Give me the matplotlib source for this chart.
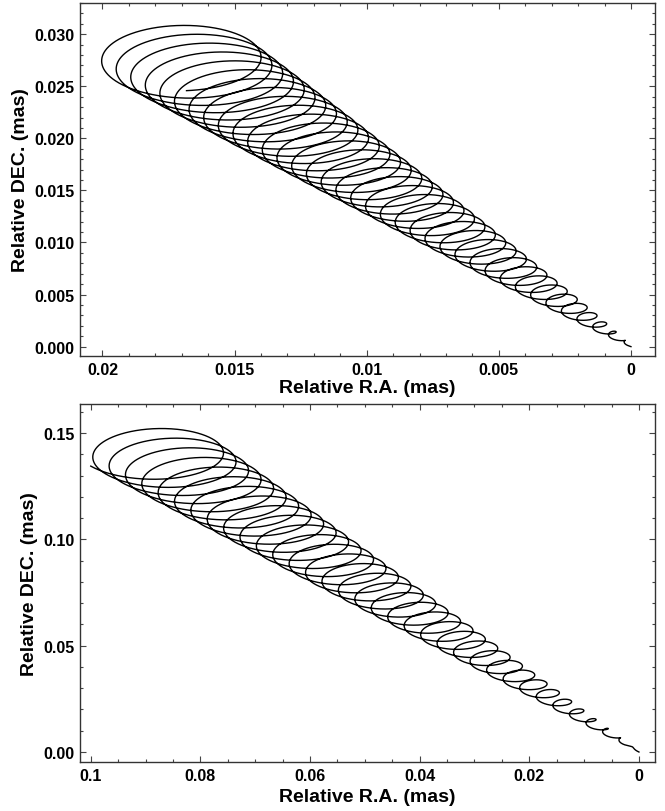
import numpy as np
import matplotlib
matplotlib.use("Agg")
import matplotlib.pyplot as plt
from matplotlib.ticker import FixedLocator, MultipleLocator

# ---- data (trajectory parameters per panel) ----
# loop-centre drift at the end of the track (R.A., DEC) in mas
top_drift_end = [0.01726, 0.0279]
top_loop_semi = [0.00317, 0.00335]   # semi-axes of the last loop (R.A., DEC)
top_turns = 36
top_end_phase_deg = -98.0
top_growth_power = 0.8

bot_drift_end = [0.0895, 0.142]
bot_loop_semi = [0.0128, 0.0131]
bot_turns = 34
bot_end_phase_deg = -35.0
bot_growth_power = 0.92

top_xticks = [0.02, 0.015, 0.01, 0.005, 0.0]
top_xticklabels = ["0.02", "0.015", "0.01", "0.005", "0"]
top_yticks = [0.000, 0.005, 0.010, 0.015, 0.020, 0.025, 0.030]
top_yticklabels = ["0.000", "0.005", "0.010", "0.015", "0.020", "0.025", "0.030"]
top_xlim = [0.02085, -0.00091]
top_ylim = [-0.0009, 0.0330]

bot_xticks = [0.1, 0.08, 0.06, 0.04, 0.02, 0.0]
bot_xticklabels = ["0.1", "0.08", "0.06", "0.04", "0.02", "0"]
bot_yticks = [0.00, 0.05, 0.10, 0.15]
bot_yticklabels = ["0.00", "0.05", "0.10", "0.15"]
bot_xlim = [0.10195, -0.00293]
bot_ylim = [-0.0047, 0.1637]

xlabel = "Relative R.A. (mas)"
ylabel = "Relative DEC. (mas)"

FONT = ["Liberation Sans", "DejaVu Sans"]
plt.rcParams["font.family"] = FONT
plt.rcParams["font.weight"] = "bold"


def track(drift, semi, turns, end_deg, power, n=30000):
    t = np.linspace(0.0, 1.0, n)
    th = np.deg2rad(end_deg) - 2 * np.pi * turns * (1.0 - t)
    amp = t ** power
    ra = t * drift[0] + amp * semi[0] * np.cos(th)
    dec = t * drift[1] + amp * semi[1] * np.sin(th)
    return ra, dec


def style(ax, xt, xtl, yt, ytl, xlim, ylim, xminor, yminor, xpad):
    ax.set_xlim(*xlim)
    ax.set_ylim(*ylim)
    ax.xaxis.set_major_locator(FixedLocator(xt))
    ax.set_xticklabels(xtl)
    ax.yaxis.set_major_locator(FixedLocator(yt))
    ax.set_yticklabels(ytl)
    ax.xaxis.set_minor_locator(MultipleLocator(xminor))
    ax.yaxis.set_minor_locator(MultipleLocator(yminor))
    ax.tick_params(which="both", direction="in", top=True, right=True,
                   labelsize=11.5, width=0.8, color="#444444", pad=4)
    ax.tick_params(which="major", length=4.5)
    ax.tick_params(which="minor", length=2.5)
    for lab in ax.get_xticklabels() + ax.get_yticklabels():
        lab.set_fontweight("bold")
    for s in ax.spines.values():
        s.set_linewidth(1.0)
        s.set_color("#333333")
    ax.set_xlabel(xlabel, fontsize=14, fontweight="bold", labelpad=xpad)
    ax.set_ylabel(ylabel, fontsize=14, fontweight="bold", labelpad=4)


fig = plt.figure(figsize=(6.65, 8.12), dpi=100)
ax1 = fig.add_axes([80 / 665, 1 - 357 / 812, 575 / 665, 353 / 812])
ax2 = fig.add_axes([80 / 665, 1 - 763 / 812, 575 / 665, 358 / 812])

ra, dec = track(top_drift_end, top_loop_semi, top_turns, top_end_phase_deg, top_growth_power)
ax1.plot(ra, dec, color="black", lw=1.0)
style(ax1, top_xticks, top_xticklabels, top_yticks, top_yticklabels,
      top_xlim, top_ylim, 0.001, 0.001, 2)

ra, dec = track(bot_drift_end, bot_loop_semi, bot_turns, bot_end_phase_deg, bot_growth_power)
ax2.plot(ra, dec, color="black", lw=1.0)
style(ax2, bot_xticks, bot_xticklabels, bot_yticks, bot_yticklabels,
      bot_xlim, bot_ylim, 0.005, 0.01, 4)

fig.savefig("out.png", dpi=100)
